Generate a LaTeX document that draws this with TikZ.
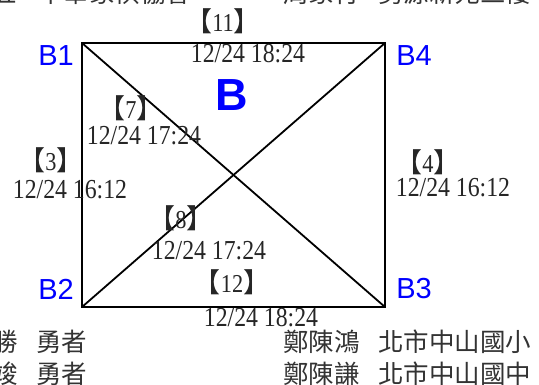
\documentclass[tikz,border=0pt]{standalone}
\usepackage{fontspec}
\setmainfont{Liberation Serif}
\newfontfamily\cjk{Noto Sans CJK TC}
\newfontfamily\arial{Liberation Sans}
\newcommand\tallt[1]{\scalebox{0.97}[1.12]{#1}}
\newcommand\lbrk{{\cjk\fontsize{27}{27}\selectfont 【}}
\newcommand\rbrk{{\cjk\fontsize{27}{27}\selectfont 】}}
\begin{document}
\begin{tikzpicture}[x=1pt,y=-1pt,
  edge/.style={draw=black,line width=1.8pt},
  corner/.style={text=blue,font=\arial\fontsize{29}{29}\selectfont,inner sep=0pt},
  tag/.style={text=black!85,font=\fontsize{23}{23}\selectfont,inner sep=0pt},
  when/.style={text=black!85,font=\fontsize{24.5}{24.5}\selectfont,inner sep=0pt},
  row/.style={text=black!80,font=\cjk\fontsize{25.5}{25.5}\selectfont,inner sep=0pt,anchor=base west}]
\useasboundingbox (0,0) rectangle (539,385);
\fill[white] (0,0) rectangle (539,385);
\clip (0,0) rectangle (539,385);
% corners of square
\coordinate (c1) at (82,43);
\coordinate (c4) at (385,43);
\coordinate (c2) at (82,307);
\coordinate (c3) at (385,307);
\draw[edge] (c1) -- (c4) -- (c3) -- (c2) -- cycle;
\draw[edge] (c1) -- (c3);
\draw[edge] (c2) -- (c4);
% corner labels
\node[corner] (lb1) at (56,56) {B1};
\node[corner] (lb4) at (414,56) {B4};
\node[corner] (lb2) at (56,289) {B2};
\node[corner] (lb3) at (414,289) {B3};
\node[text=blue,font=\arial\bfseries\fontsize{45}{45}\selectfont,inner sep=0pt] (bigB) at (232,95) {B};
% edge tags
\node[tag] (t11) at (223,21) {\lbrk\tallt{11}\rbrk};
\node[when] (d11) at (248,54) {\tallt{12/24 18:24}};
\node[tag] (t7) at (131,108) {\lbrk\tallt{7}\rbrk};
\node[when] (d7) at (144,136) {\tallt{12/24 17:24}};
\node[tag] (t3) at (51,160) {\lbrk\tallt{3}\rbrk};
\node[when] (d3) at (70,190) {\tallt{12/24 16:12}};
\node[tag] (t4) at (428,162) {\lbrk\tallt{4}\rbrk};
\node[when] (d4) at (453,188) {\tallt{12/24 16:12}};
\node[tag] (t8) at (181,218) {\lbrk\tallt{8}\rbrk};
\node[when] (d8) at (209,251) {\tallt{12/24 17:24}};
\node[tag] (t12) at (232,282) {\lbrk\tallt{12}\rbrk};
\node[when] (d12) at (261,318) {\tallt{12/24 18:24}};
% text rows (cut at page edges)
\node[row] (r0a) at (-9,3) {五};
\node[row] (r0b) at (38,3) {中華象棋協會};
\node[row] (r0c) at (283,3) {周象行};
\node[row] (r0d) at (378,3) {勇源新苑三樓};
\node[row] (r1a) at (-8,352) {勝};
\node[row] (r1b) at (36,352) {勇者};
\node[row] (r1c) at (283,352) {鄭陳鴻};
\node[row] (r1d) at (378,352) {北市中山國小};
\node[row] (r2a) at (-8,384) {竣};
\node[row] (r2b) at (36,384) {勇者};
\node[row] (r2c) at (283,384) {鄭陳謙};
\node[row] (r2d) at (378,384) {北市中山國中};
\end{tikzpicture}
\end{document}
